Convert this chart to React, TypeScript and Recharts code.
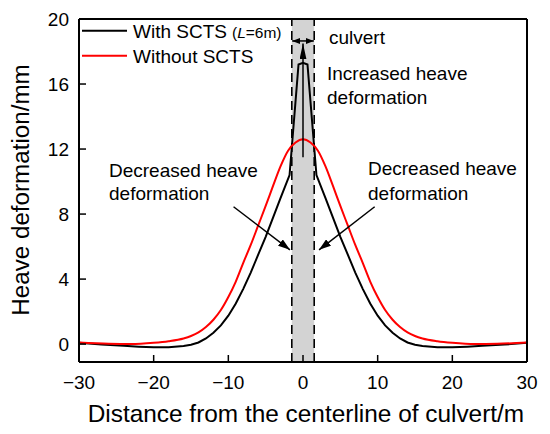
import React from 'react';
import { ComposedChart, Line, XAxis, YAxis, ReferenceArea, ReferenceLine } from 'recharts';

const FONT = '"Liberation Sans", Arial, Helvetica, sans-serif';

// Distance from culvert centerline (m)
const blackX = [-30, -27, -24, -22, -20, -18, -16, -15, -14, -13, -12, -11, -10, -9, -8, -7, -6, -5, -4, -3, -1.8, -0.6, 0, 0.6, 1.8, 3, 4, 5, 6, 7, 8, 9, 10, 11, 12, 13, 14, 15, 16, 18, 20, 22, 24, 27, 30];
// With SCTS (L=6m), heave deformation (mm)
const blackY = [0.08, -0.03, -0.1, -0.16, -0.2, -0.19, -0.12, -0.04, 0.1, 0.35, 0.7, 1.15, 1.75, 2.5, 3.4, 4.4, 5.5, 6.6, 7.8, 9.0, 10.4, 17.2, 17.3, 17.2, 10.4, 9.0, 7.8, 6.6, 5.5, 4.4, 3.4, 2.5, 1.75, 1.15, 0.7, 0.35, 0.1, -0.04, -0.12, -0.19, -0.2, -0.16, -0.1, -0.03, 0.08];

const redX = [-30, -26, -23, -20, -18, -16, -15, -14, -13, -12, -11, -10, -9, -8, -7, -6, -5, -4, -3, -2, -1, 0, 1, 2, 3, 4, 5, 6, 7, 8, 9, 10, 11, 12, 13, 14, 15, 16, 18, 20, 23, 26, 30];
// Without SCTS, heave deformation (mm)
const redY = [0.1, 0.02, 0.0, 0.08, 0.18, 0.35, 0.5, 0.72, 1.05, 1.5, 2.1, 2.9, 3.85, 5.0, 6.1, 7.3, 8.5, 9.75, 10.95, 11.9, 12.4, 12.6, 12.4, 11.9, 10.95, 9.75, 8.5, 7.3, 6.1, 5.0, 3.85, 2.9, 2.1, 1.5, 1.05, 0.72, 0.5, 0.35, 0.18, 0.08, 0.0, 0.02, 0.1];

const xTicks = [-30, -20, -10, 0, 10, 20, 30];
const yTicks = [0, 4, 8, 12, 16, 20];
const xDomain = [-30, 30];
const yDomain = [-1.1, 20];

// culvert band edges (m)
const culvertEdges = [-1.5, 1.5];

// annotation arrows in data units
const arrowSegments = [
  { from: { x: -9.3, y: 8.45 }, to: { x: -1.75, y: 5.8 } },
  { from: { x: 9.6, y: 8.45 }, to: { x: 2.15, y: 5.8 } },
  { from: { x: 0, y: 11.5 }, to: { x: 0, y: 18.5 } },
];
const culvertArrow = { from: { x: -1.45, y: 18.65 }, to: { x: 1.45, y: 18.65 } };

const blackData = blackX.map((x, i) => ({ x, y: blackY[i] }));
const redData = redX.map((x, i) => ({ x, y: redY[i] }));

const fmt = (v: number) => (v < 0 ? '\u2212' + Math.abs(v) : String(v));

const XTick = (props: any) => {
  const { x, y, payload } = props;
  return (
    <g>
      <line x1={x} y1={y} x2={x} y2={y - 7} stroke="#000" strokeWidth={1.5} />
      <text x={x} y={y + 27} textAnchor="middle" fontSize={19} fontFamily={FONT} fill="#000">
        {fmt(payload.value)}
      </text>
    </g>
  );
};

const YTick = (props: any) => {
  const { x, y, payload } = props;
  return (
    <g>
      <line x1={x} y1={y} x2={x + 7} y2={y} stroke="#000" strokeWidth={1.5} />
      <text x={x - 10} y={y} textAnchor="end" dominantBaseline="central" fontSize={19} fontFamily={FONT} fill="#000">
        {fmt(payload.value)}
      </text>
    </g>
  );
};

export default function App() {
  const W = 542;
  const H = 426;
  return (
    <div style={{ position: 'relative', width: W, height: H, fontFamily: FONT }}>
      <ComposedChart width={W} height={H} margin={{ top: 10, right: 22, bottom: 12, left: 11 }}>
        <XAxis
          type="number"
          dataKey="x"
          domain={xDomain}
          ticks={xTicks}
          interval={0}
          allowDataOverflow
          height={60}
          tickSize={0}
          tickMargin={0}
          tickLine={false}
          axisLine={{ stroke: '#000', strokeWidth: 2 }}
          tick={XTick}
        />
        <XAxis
          xAxisId="top"
          orientation="top"
          type="number"
          domain={xDomain}
          height={1}
          tick={false}
          tickLine={false}
          axisLine={{ stroke: '#000', strokeWidth: 2 }}
        />
        <YAxis
          type="number"
          domain={yDomain}
          ticks={yTicks}
          interval={0}
          allowDataOverflow
          width={60}
          tickSize={0}
          tickMargin={0}
          tickLine={false}
          axisLine={{ stroke: '#000', strokeWidth: 2 }}
          tick={YTick}
        />
        <YAxis
          yAxisId="right"
          orientation="right"
          type="number"
          domain={yDomain}
          width={1}
          tick={false}
          tickLine={false}
          axisLine={{ stroke: '#000', strokeWidth: 2 }}
        />
        <ReferenceArea x1={culvertEdges[0]} x2={culvertEdges[1]} fill="#d3d3d3" fillOpacity={1} stroke="none" />
        {culvertEdges.map((e) => (
          <ReferenceLine key={e} x={e} stroke="#000" strokeWidth={1.6} strokeDasharray="9 5" />
        ))}
        <Line data={blackData} dataKey="y" type="linear" stroke="#000" strokeWidth={2} dot={false} isAnimationActive={false} />
        <Line data={redData} dataKey="y" type="monotone" stroke="#ff0000" strokeWidth={2} dot={false} isAnimationActive={false} />
        {arrowSegments.map((a, i) => (
          <ReferenceLine
            key={'a' + i}
            segment={[a.from, a.to]}
            stroke="#000"
            strokeWidth={1.5}
            markerEnd={i === 2 ? 'url(#ahLong)' : 'url(#ah)'}
          />
        ))}
        <ReferenceLine
          segment={[culvertArrow.from, culvertArrow.to]}
          stroke="#000"
          strokeWidth={1.5}
          markerStart="url(#ahSmall)"
          markerEnd="url(#ahSmall)"
        />
      </ComposedChart>
      <svg
        width={W}
        height={H}
        style={{ position: 'absolute', left: 0, top: 0, pointerEvents: 'none' }}
        fontFamily={FONT}
      >
        <defs>
          <marker id="ah" viewBox="0 0 12 8" refX="12" refY="4" markerWidth="12" markerHeight="8" markerUnits="userSpaceOnUse" orient="auto-start-reverse">
            <path d="M0,0 L12,4 L0,8 z" fill="#000" />
          </marker>
          <marker id="ahLong" viewBox="0 0 16 7" refX="16" refY="3.5" markerWidth="16" markerHeight="7" markerUnits="userSpaceOnUse" orient="auto-start-reverse">
            <path d="M0,0 L16,3.5 L0,7 z" fill="#000" />
          </marker>
          <marker id="ahSmall" viewBox="0 0 8 6" refX="8" refY="3" markerWidth="8" markerHeight="6" markerUnits="userSpaceOnUse" orient="auto-start-reverse">
            <path d="M0,0 L8,3 L0,6 z" fill="#000" />
          </marker>
        </defs>
        {/* legend */}
        <line x1={74} y1={22.7} x2={119} y2={22.7} stroke="#000" strokeWidth={2} />
        <text x={125} y={29.7} fontSize={19} fill="#000">
          With SCTS
          <tspan fontSize={15.5} dx={5}>(</tspan>
          <tspan fontSize={15.5} fontStyle="italic">L</tspan>
          <tspan fontSize={15.5}>=6m)</tspan>
        </text>
        <line x1={74} y1={47.7} x2={119} y2={47.7} stroke="#ff0000" strokeWidth={2} />
        <text x={125} y={54.7} fontSize={19} fill="#000">Without SCTS</text>
        {/* annotations */}
        <text x={321} y={29} fontSize={19} dominantBaseline="central" fill="#000">culvert</text>
        <text x={319} y={65} fontSize={19} dominantBaseline="central" fill="#000">Increased heave</text>
        <text x={319} y={89} fontSize={19} dominantBaseline="central" fill="#000">deformation</text>
        <text x={101} y={162} fontSize={19} dominantBaseline="central" fill="#000">Decreased heave</text>
        <text x={101} y={185} fontSize={19} dominantBaseline="central" fill="#000">deformation</text>
        <text x={360} y={160} fontSize={19} dominantBaseline="central" fill="#000">Decreased heave</text>
        <text x={360} y={185} fontSize={19} dominantBaseline="central" fill="#000">deformation</text>
        {/* axis titles */}
        <text x={79.7} y={414} fontSize={24.4} fill="#000">Distance from the centerline of culvert/m</text>
        <text transform="translate(21,182) rotate(-90)" textAnchor="middle" fontSize={24.2} fill="#000">
          Heave deformation/mm
        </text>
      </svg>
    </div>
  );
}
